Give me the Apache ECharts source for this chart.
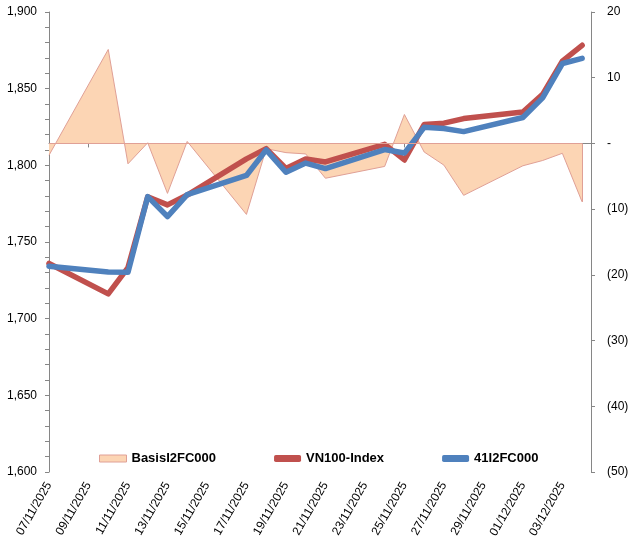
<!DOCTYPE html>
<html>
<head>
<meta charset="utf-8">
<script src="https://cdn.jsdelivr.net/npm/echarts@6/dist/echarts.min.js"></script>
<style>
html,body{margin:0;padding:0;background:#fff;}
#chart{width:636px;height:553px;}
</style>
</head>
<body>
<div id="chart"></div>
<script>
// Trading dates (dd/mm/yyyy)
const dates = ['07/11/2025','10/11/2025','11/11/2025','12/11/2025','13/11/2025','14/11/2025',
  '17/11/2025','18/11/2025','19/11/2025','20/11/2025','21/11/2025',
  '24/11/2025','25/11/2025','26/11/2025','27/11/2025','28/11/2025',
  '01/12/2025','02/12/2025','03/12/2025','04/12/2025'];
// VN100-Index (left axis)
const vn100 = [1736.0, 1716.2, 1733.3, 1779.5, 1774.2, 1780.6,
  1804.2, 1810.9, 1798.0, 1804.2, 1802.2,
  1813.7, 1803.5, 1826.6, 1827.5, 1830.5,
  1834.8, 1846.3, 1868.0, 1878.3];
// 41I2FC000 futures (left axis)
const fut = [1734.2, 1730.4, 1730.2, 1779.6, 1766.6, 1780.9,
  1793.4, 1810.1, 1795.5, 1801.5, 1797.9,
  1810.3, 1808.0, 1824.8, 1824.0, 1822.0,
  1831.2, 1844.0, 1866.4, 1869.8];
// Basis (right axis)
const basis = [-1.8, 14.3, -3.1, 0.1, -7.6, 0.3,
  -10.8, -0.8, -1.4, -1.6, -5.3,
  -3.5, 4.4, -1.3, -3.3, -7.9,
  -3.4, -2.6, -1.5, -8.9];
// X tick labels (every 2 days)
const tickLabels = ['07/11/2025','09/11/2025','11/11/2025','13/11/2025','15/11/2025','17/11/2025',
  '19/11/2025','21/11/2025','23/11/2025','25/11/2025','27/11/2025','29/11/2025','01/12/2025','03/12/2025'];

function parseD(s){const p=s.split('/');return Date.UTC(+p[2],+p[1]-1,+p[0]);}
const t0 = parseD(dates[0]);
const dayIdx = d => Math.round((parseD(d)-t0)/86400000);
const xs = dates.map(dayIdx);
const tickIdx = tickLabels.map(dayIdx);
const labelMap = {}; tickLabels.forEach((s,i)=>{labelMap[tickIdx[i]] = s;});
const lastX = xs[xs.length-1];

const FONT = 'Liberation Sans, Arial, sans-serif';
const AXIS_COLOR = '#868686';

const chart = echarts.init(document.getElementById('chart'), null, {renderer:'canvas'});
chart.setOption({
  animation:false,
  backgroundColor:'#fff',
  textStyle:{fontFamily:FONT},
  grid:{left:49, right:45, top:12, bottom:81, containLabel:false},
  legend:{
    left:94, top:447, itemWidth:27, itemHeight:7, itemGap:58,
    textStyle:{fontFamily:FONT, fontSize:13, fontWeight:'bold', color:'#000'},
    data:[
      {name:'BasisI2FC000', icon:'rect', itemStyle:{color:'#FCD5B4', borderColor:'#E0A096', borderWidth:1}},
      {name:'VN100-Index', icon:'roundRect', itemStyle:{color:'#C0504D', borderWidth:0}},
      {name:'41I2FC000', icon:'roundRect', itemStyle:{color:'#4F81BD', borderWidth:0}}
    ]
  },
  xAxis:{
    type:'value', min:0, max:27.45,
    axisLine:{show:true, lineStyle:{color:AXIS_COLOR, width:1}},
    axisTick:{show:true, length:4, lineStyle:{color:AXIS_COLOR}, customValues:tickIdx},
    axisLabel:{rotate:60, margin:11, fontSize:12, color:'#000', fontFamily:FONT,
      customValues:tickIdx, formatter:v=>labelMap[Math.round(v)]||''},
    splitLine:{show:false}
  },
  yAxis:[
    {type:'value', min:1600, max:1900, interval:50, position:'left',
      axisLine:{show:true, lineStyle:{color:AXIS_COLOR}},
      axisTick:{show:true, length:4, lineStyle:{color:AXIS_COLOR}},
      minorTick:{show:true, splitNumber:5, length:4, lineStyle:{color:AXIS_COLOR}},
      axisLabel:{margin:12, fontSize:12, color:'#000', fontFamily:FONT,
        formatter:v=>v.toLocaleString('en-US')},
      splitLine:{show:false}},
    {type:'value', min:-50, max:20, interval:10, position:'right',
      axisLine:{show:true, lineStyle:{color:AXIS_COLOR}},
      axisTick:{show:true, length:4, lineStyle:{color:AXIS_COLOR}},
      axisLabel:{margin:16, fontSize:12, color:'#000', fontFamily:FONT, align:'left',
        formatter:v=> v===0 ? '-' : (v<0 ? '('+Math.abs(v)+')' : String(v))},
      splitLine:{show:false}}
  ],
  series:[
    {name:'BasisI2FC000', type:'line', yAxisIndex:1, showSymbol:false, symbol:'none',
      data:xs.map((x,i)=>[x,basis[i]]),
      lineStyle:{color:'#E0A096', width:1},
      itemStyle:{color:'#FCD5B4'},
      areaStyle:{color:'#FCD5B4', opacity:1, origin:0},
      markLine:{silent:true, symbol:'none', label:{show:false},
        lineStyle:{color:'#E0A096', width:1, type:'solid'},
        data:[
          [{coord:[xs[0],0]},{coord:[lastX,0]}],
          [{coord:[lastX,0]},{coord:[lastX,basis[basis.length-1]]}]
        ]},
      z:1},
    {name:'VN100-Index', type:'line', yAxisIndex:0, showSymbol:false, symbol:'none',
      data:xs.map((x,i)=>[x,vn100[i]]),
      lineStyle:{color:'#C0504D', width:5.5, cap:'round', join:'round'},
      itemStyle:{color:'#C0504D'}, z:3},
    {name:'41I2FC000', type:'line', yAxisIndex:0, showSymbol:false, symbol:'none',
      data:xs.map((x,i)=>[x,fut[i]]),
      lineStyle:{color:'#4F81BD', width:5.5, cap:'round', join:'round'},
      itemStyle:{color:'#4F81BD'}, z:4}
  ]
});
</script>
</body>
</html>
